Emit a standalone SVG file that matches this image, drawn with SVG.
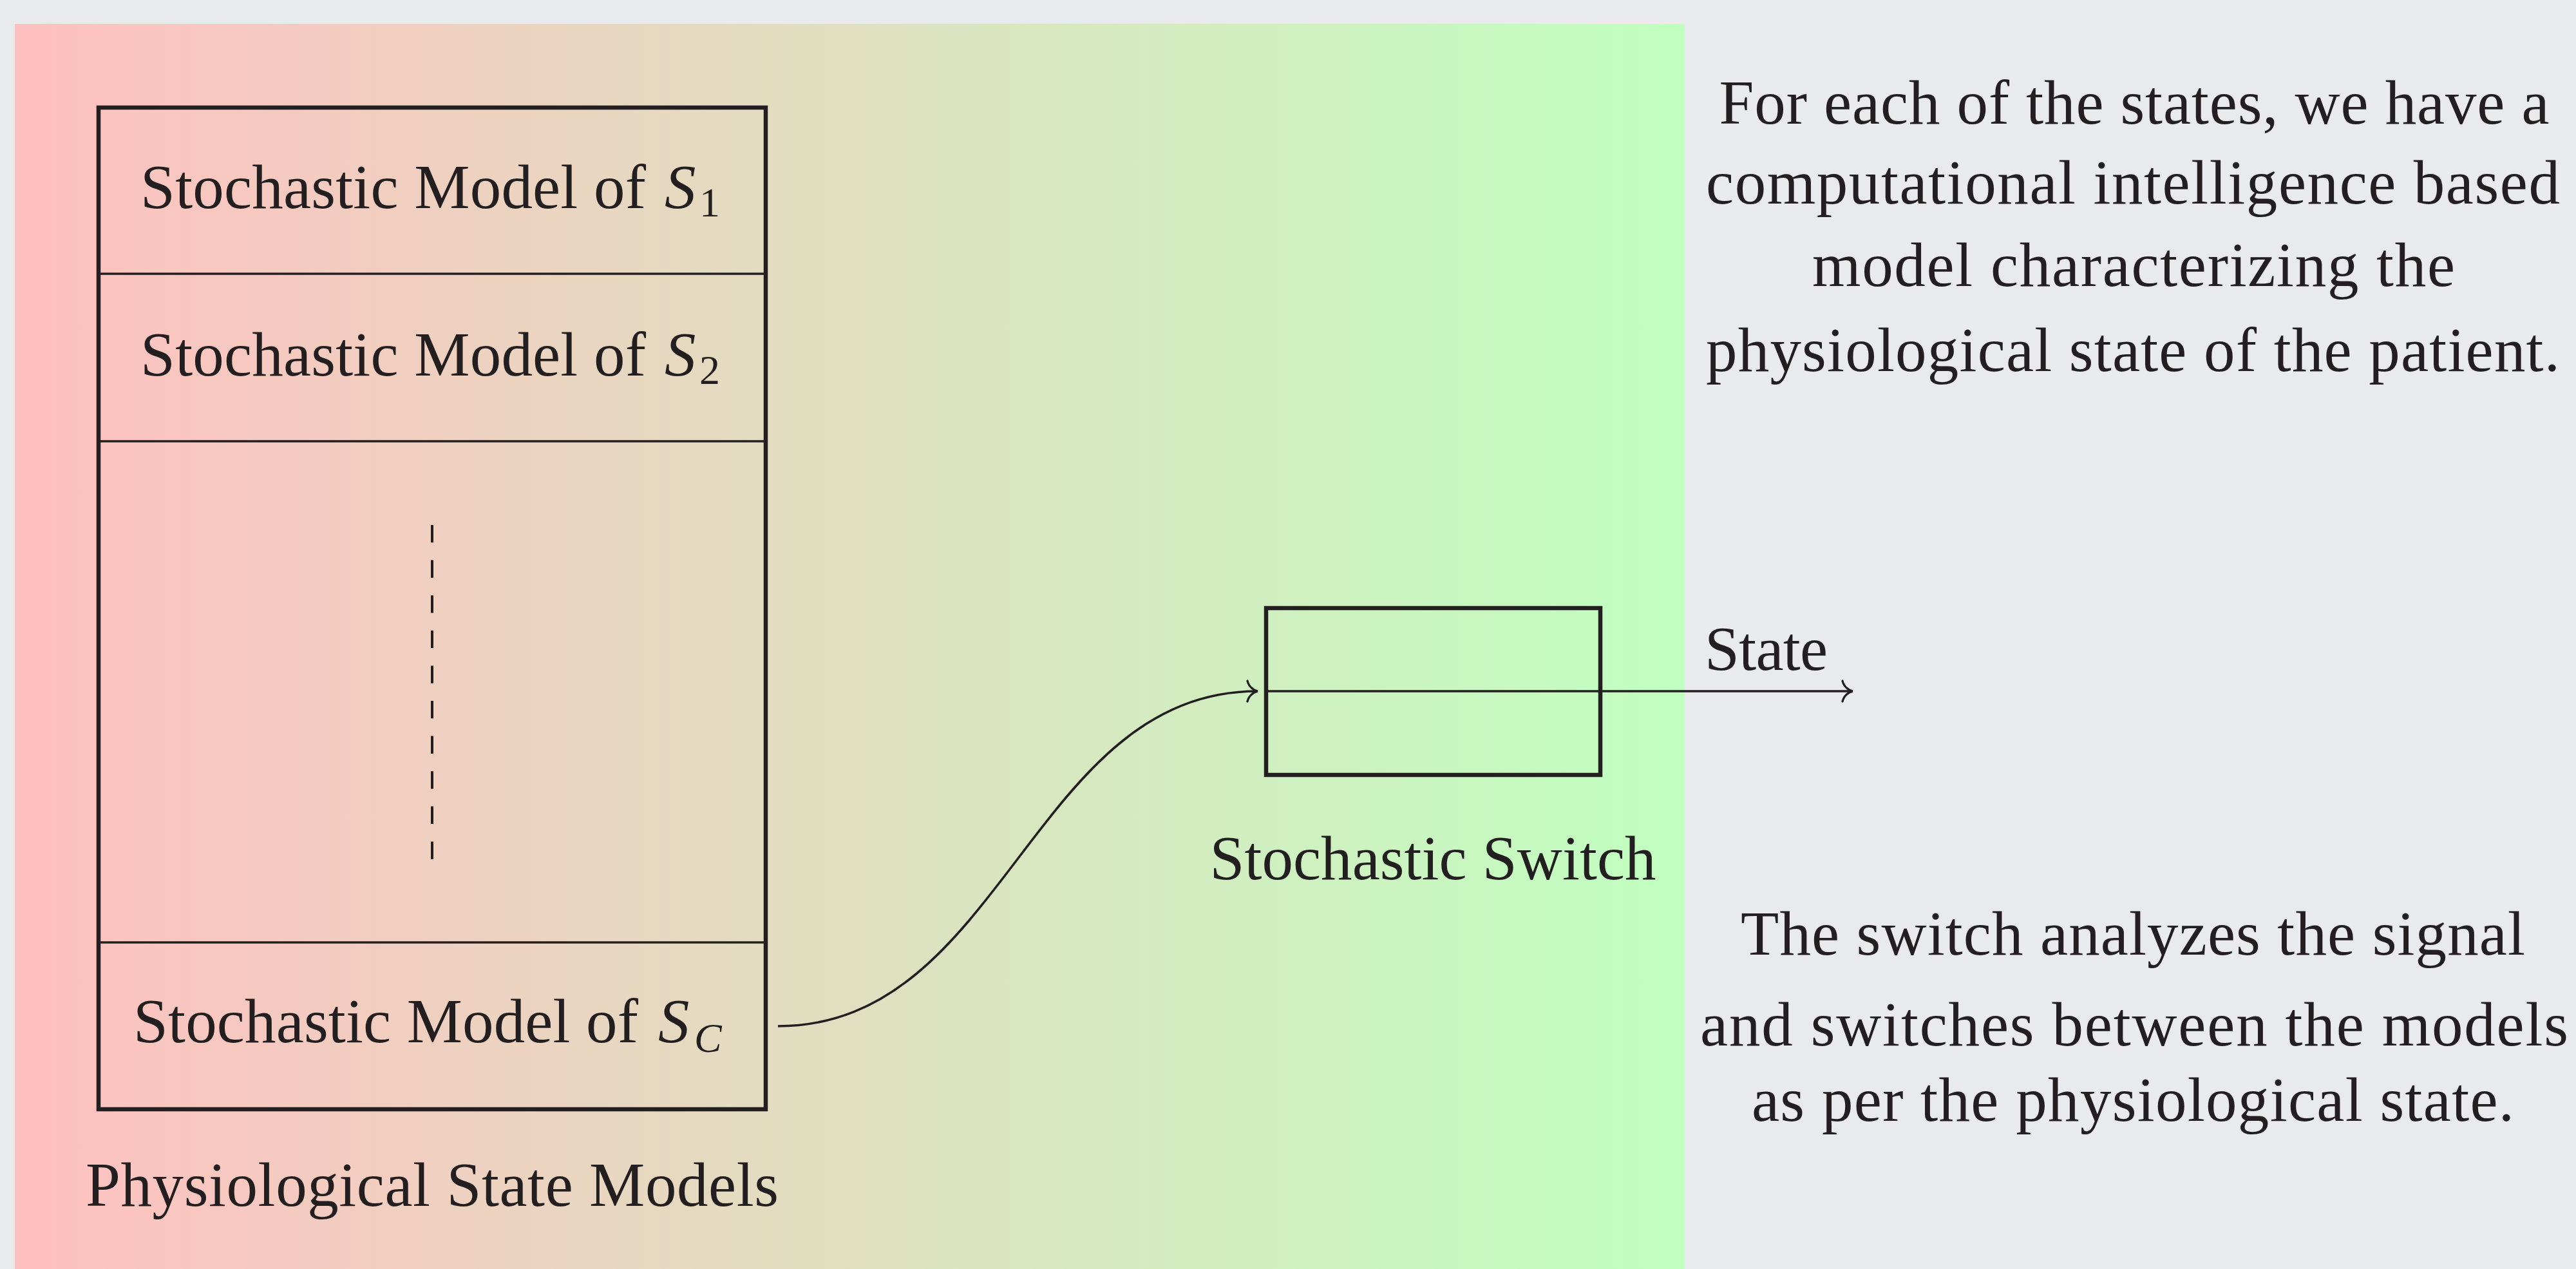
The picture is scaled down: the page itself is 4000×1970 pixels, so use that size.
<svg xmlns="http://www.w3.org/2000/svg" width="4000" height="1970" viewBox="0 0 4000 1970">
  <defs>
    <linearGradient id="panelGrad" x1="23" y1="0" x2="2616" y2="0" gradientUnits="userSpaceOnUse">
      <stop offset="0" stop-color="#ffc0c0"/>
      <stop offset="1" stop-color="#c0ffc0"/>
    </linearGradient>
    <marker id="toArrow" markerUnits="userSpaceOnUse" orient="auto" refX="0" refY="0" markerWidth="40" markerHeight="40" viewBox="-20 -20 40 40" overflow="visible">
      <path d="M-16,-16 C-14,-7 -6,-1 0,0 C-6,1 -14,7 -16,16" fill="none" stroke="#231f20" stroke-width="3.3" stroke-linecap="round"/>
    </marker>
    <style>
      text { font-family: "Liberation Serif", "Times New Roman", serif; font-size: 97px; fill: #231f20; }
      .it { font-style: italic; }
      .sub { font-size: 64px; }
      .box { fill: none; stroke: #231f20; stroke-width: 6.5; }
      .div { stroke: #231f20; stroke-width: 3.3; }
      .conn { fill: none; stroke: #231f20; stroke-width: 3.6; }
      .dash { stroke: #231f20; stroke-width: 4; stroke-dasharray: 27.3 27.3; }
      .note { text-anchor: middle; }
    </style>
  </defs>

  <rect x="0" y="0" width="4000" height="1970" fill="#e9eaec"/>
  <rect x="23" y="37" width="2593" height="1933" fill="url(#panelGrad)"/>

  <g id="models">
    <rect class="box" x="153" y="167" width="1036" height="1555"/>
    <line class="div" x1="153" y1="425" x2="1189" y2="425"/>
    <line class="div" x1="153" y1="685" x2="1189" y2="685"/>
    <line class="div" x1="153" y1="1463" x2="1189" y2="1463"/>
    <line class="dash" x1="671" y1="815" x2="671" y2="1334"/>
    <text x="218" y="323"><tspan textLength="785">Stochastic Model of</tspan><tspan class="it" x="1032">S</tspan><tspan class="sub" x="1086" y="336">1</tspan></text>
    <text x="218" y="583"><tspan textLength="785">Stochastic Model of</tspan><tspan class="it" x="1032">S</tspan><tspan class="sub" x="1086" y="596">2</tspan></text>
    <text x="207" y="1618"><tspan textLength="784">Stochastic Model of</tspan><tspan class="it" x="1022">S</tspan><tspan class="sub it" x="1078" y="1633">C</tspan></text>
    <text x="671" y="1872" text-anchor="middle" textLength="1076">Physiological State Models</text>
  </g>

  <g id="switch">
    <rect class="box" x="1966" y="944" width="519" height="259"/>
    <text x="2225" y="1365" text-anchor="middle" textLength="693">Stochastic Switch</text>
  </g>

  <g id="connectors">
    <path class="conn" d="M1208,1593 C1558,1593 1603,1073 1953,1073" marker-end="url(#toArrow)"/>
    <line class="conn" x1="1966" y1="1073" x2="2877" y2="1073" marker-end="url(#toArrow)"/>
    <text x="2647" y="1040" textLength="191">State</text>
  </g>

  <g id="note-models">
    <text class="note" x="3314" y="192" textLength="1289">For each of the states, we have a</text>
    <text class="note" x="3312" y="316" textLength="1326">computational intelligence based</text>
    <text class="note" x="3313" y="444" textLength="998">model characterizing the</text>
    <text class="note" x="3312" y="576" textLength="1326">physiological state of the patient.</text>
  </g>

  <g id="note-switch">
    <text class="note" x="3312" y="1482" textLength="1218">The switch analyzes the signal</text>
    <text class="note" x="3314" y="1623" textLength="1348">and switches between the models</text>
    <text class="note" x="3312" y="1740" textLength="1184">as per the physiological state.</text>
  </g>
</svg>
